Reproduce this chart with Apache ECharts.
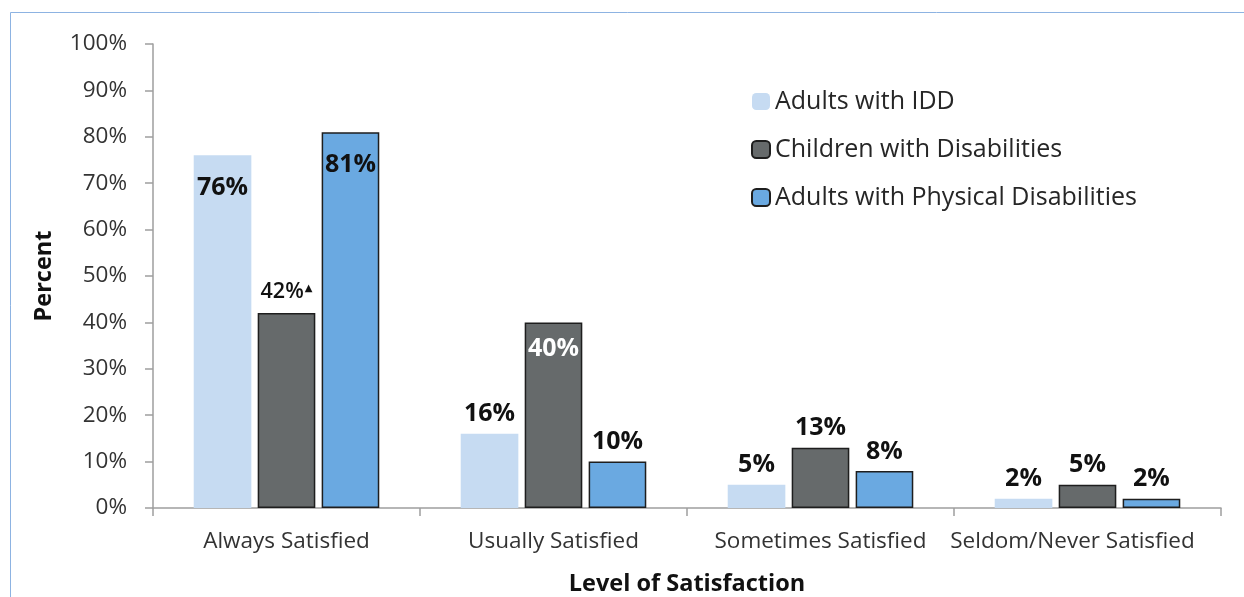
<!DOCTYPE html>
<html>
<head>
<meta charset="utf-8">
<script src="https://cdn.jsdelivr.net/npm/echarts@6/dist/echarts.min.js"></script>
<style>
  html, body { margin: 0; padding: 0; background: #ffffff; }
  #chart { width: 1244px; height: 597px; }
</style>
</head>
<body>
<div id="chart"></div>
<script>
// Satisfaction levels reported by each group (percent)
const categories = ['Always Satisfied', 'Usually Satisfied', 'Sometimes Satisfied', 'Seldom/Never Satisfied'];
const seriesNames = ['Adults with IDD', 'Children with Disabilities', 'Adults with Physical Disabilities'];
const adultsIDD = [76, 16, 5, 2];
const childrenDisabilities = [42, 40, 13, 5];
const adultsPhysical = [81, 10, 8, 2];
const yTicks = [0, 10, 20, 30, 40, 50, 60, 70, 80, 90, 100];
// Marker appended to a value label (significant difference)
const labelSuffix = [['', '', '', ''], ['\u25B2', '', '', ''], ['', '', '', '']];

const FONT = '"Open Sans"';
const colors = ['#C6DBF2', '#666A6B', '#6AA9E1'];
const borders = ['#C6DBF2', '#1E1E1E', '#1E1E1E'];

// Per-point label placement: labels sit inside the tallest bars
const insideLabel = [
  [true, false, false, false],
  [false, true, false, false],
  [true, false, false, false]
];
const insideDistance = [
  [20, 0, 0, 0],
  [0, 14, 0, 0],
  [20, 0, 0, 0]
];
const whiteLabel = [
  [false, false, false, false],
  [false, true, false, false],
  [false, false, false, false]
];

function buildData(values, s) {
  return values.map((v, i) => {
    const suffix = labelSuffix[s][i];
    const label = insideLabel[s][i]
      ? { position: 'insideTop', distance: insideDistance[s][i], color: whiteLabel[s][i] ? '#ffffff' : '#111111' }
      : { position: 'top', distance: 7 };
    if (suffix) {
      label.distance = 10;
      label.formatter = '{a|' + v + '%}{m|' + suffix + '}';
      label.rich = {
        a: { fontFamily: FONT, fontSize: 21.5, fontWeight: 600, color: '#111111' },
        m: { fontFamily: 'DejaVu Sans', fontSize: 10, color: '#111111', padding: [0, 0, 7, 1] }
      };
    }
    return { value: v, label: label };
  });
}

const allValues = [adultsIDD, childrenDisabilities, adultsPhysical];

const chart = echarts.init(document.getElementById('chart'), null, { renderer: 'canvas' });
chart.setOption({
  animation: false,
  backgroundColor: '#ffffff',
  textStyle: { fontFamily: FONT },
  graphic: [{
    type: 'rect',
    shape: { x: 10.5, y: 12.5, width: 1400, height: 800 },
    style: { fill: 'none', stroke: '#8DB3E2', lineWidth: 1 },
    silent: true,
    z: -10
  }],
  grid: { left: 153, right: 23, top: 44, bottom: 89, containLabel: false, outerBoundsMode: 'none' },
  legend: {
    orient: 'vertical',
    left: 746,
    top: 84,
    itemWidth: 18,
    itemHeight: 17,
    itemGap: 23,
    textStyle: { fontFamily: FONT, fontSize: 25, color: '#262626' },
    data: seriesNames
  },
  xAxis: {
    type: 'category',
    data: categories,
    name: 'Level of Satisfaction',
    nameLocation: 'middle',
    nameGap: 64,
    nameTextStyle: { fontFamily: FONT, fontSize: 23.5, fontWeight: 'bold', color: '#111111' },
    axisLine: { lineStyle: { color: '#9E9E9E', width: 1.5 } },
    axisTick: { show: true, length: 8, alignWithLabel: false, lineStyle: { color: '#9E9E9E', width: 1.5 } },
    axisLabel: {
      interval: 0,
      fontFamily: FONT,
      fontSize: 22.5,
      color: '#333333',
      margin: 22,
      // the last label is nudged left so it stays inside the plot's right edge
      formatter: (value, idx) => idx === categories.length - 1 ? '{edge|' + value + '}' : value,
      rich: { edge: { fontFamily: FONT, fontSize: 22.5, color: '#333333', padding: [0, 30, 0, 0] } }
    }
  },
  yAxis: {
    type: 'value',
    min: yTicks[0],
    max: yTicks[yTicks.length - 1],
    interval: yTicks[1] - yTicks[0],
    name: 'Percent',
    nameLocation: 'middle',
    nameGap: 97,
    nameTextStyle: { fontFamily: FONT, fontSize: 23.5, fontWeight: 'bold', color: '#111111' },
    axisLine: { show: true, lineStyle: { color: '#9E9E9E', width: 1.5 } },
    axisTick: { show: true, length: 8, inside: false, lineStyle: { color: '#9E9E9E', width: 1.5 } },
    splitLine: { show: false },
    axisLabel: { fontFamily: FONT, fontSize: 22.5, color: '#333333', margin: 26, formatter: '{value}%' }
  },
  series: seriesNames.map((name, s) => ({
    name: name,
    type: 'bar',
    barCategoryGap: '30.5%',
    barGap: '11%',
    data: buildData(allValues[s], s),
    itemStyle: { color: colors[s], borderColor: borders[s], borderWidth: s === 0 ? 0 : 1.5 },
    label: {
      show: true,
      fontFamily: FONT,
      fontSize: 25,
      fontWeight: 'bold',
      color: '#111111',
      formatter: '{c}%'
    }
  }))
});
</script>
</body>
</html>
